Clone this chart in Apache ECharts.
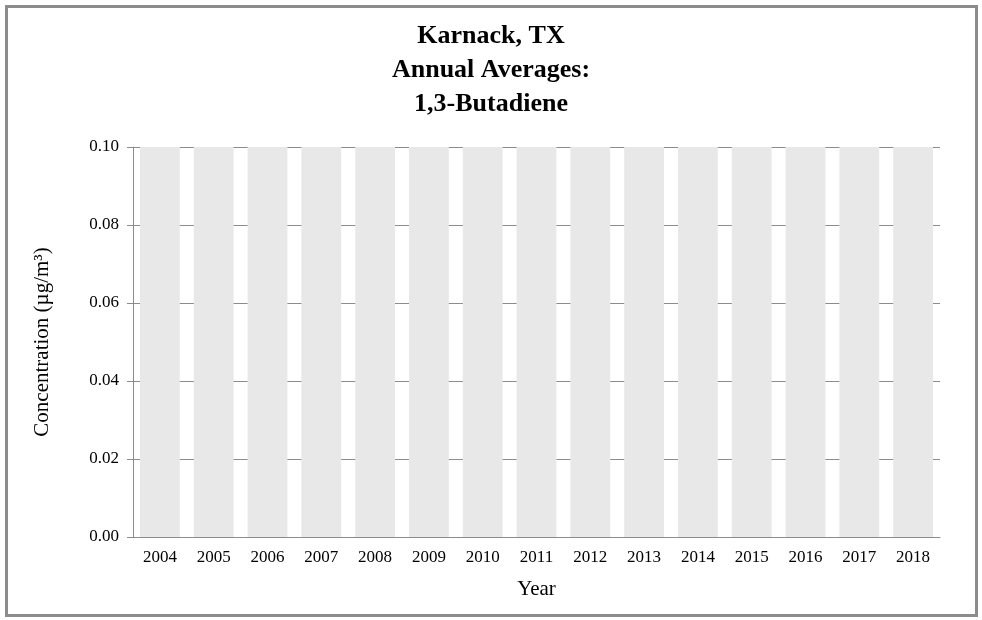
<!DOCTYPE html><html><head><meta charset="utf-8"><script src="https://cdn.jsdelivr.net/npm/echarts@6/dist/echarts.min.js"></script>
<style>body{margin:0;background:#fff}#c{width:982px;height:620px}
#f{position:absolute;left:5px;top:5px;width:967px;height:606px;border:3px solid #8c8c8c;pointer-events:none}</style></head><body>
<div id="c"></div><div id="f"></div>
<script>
const years=['2004','2005','2006','2007','2008','2009','2010','2011','2012','2013','2014','2015','2016','2017','2018'];
const values=[0.1,0.1,0.1,0.1,0.1,0.1,0.1,0.1,0.1,0.1,0.1,0.1,0.1,0.1,0.1];
const F='Liberation Serif';
const c=echarts.init(document.getElementById('c'));
c.setOption({
 animation:false,
 title:{text:'Karnack, TX\nAnnual Averages:\n1,3-Butadiene',left:'center',top:14,textStyle:{fontFamily:F,fontSize:26,fontWeight:'bold',color:'#000',lineHeight:34}},
 grid:{left:133,right:42,top:147,bottom:83},
 xAxis:{type:'category',data:years,name:'Year',nameLocation:'middle',nameGap:42,nameTextStyle:{fontFamily:F,fontSize:21,color:'#000'},
  axisLine:{lineStyle:{color:'#8c8c8c'}},axisTick:{lineStyle:{color:'#8c8c8c'},length:6},axisLabel:{fontFamily:F,fontSize:17,color:'#000',margin:12}},
 yAxis:{type:'value',min:0,max:0.1,interval:0.02,name:'Concentration (µg/m³)',nameLocation:'middle',nameGap:80,nameTextStyle:{fontFamily:F,fontSize:21,color:'#000'},
  axisLine:{show:true,lineStyle:{color:'#8c8c8c'}},axisTick:{show:true,lineStyle:{color:'#8c8c8c'},length:6},
  axisLabel:{fontFamily:F,fontSize:17,color:'#000',margin:14,formatter:v=>v.toFixed(2)},
  splitLine:{lineStyle:{color:'#8c8c8c'}}},
 series:[{type:'bar',data:values,barCategoryGap:'26%',itemStyle:{color:'#e8e8e8'}}]
});
</script></body></html>
